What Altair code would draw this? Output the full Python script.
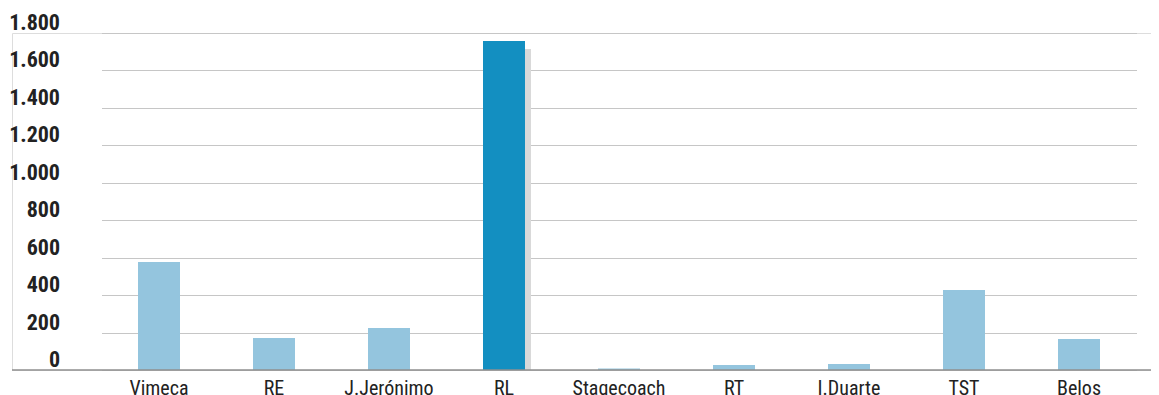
import altair as alt
import pandas as pd

companies = ["Vimeca", "RE", "J.Jerónimo", "RL", "Stagecoach", "RT", "I.Duarte", "TST", "Belos"]
values = [577, 171, 224, 1757, 8, 27, 32, 427, 166]
highlight = [False, False, False, True, False, False, False, False, False]
shadow_company = ["RL"]
shadow_value = [1715]
y_ticks = [0, 200, 400, 600, 800, 1000, 1200, 1400, 1600, 1800]
baseline_value = [0]

df = pd.DataFrame({"company": companies, "value": values, "hl": highlight})
sdf = pd.DataFrame({"company": shadow_company, "value": shadow_value})
tdf = pd.DataFrame({"tick": y_ticks})
bdf = pd.DataFrame({"v": baseline_value})

FONT = "Roboto Condensed"
W, H = 1139, 337

x_scale = alt.Scale(domain=companies, range=[89.5, 1124.5])
y_scale = alt.Scale(domain=[0, 1800], nice=False)

x_axis = alt.Axis(title=None, labelAngle=0, ticks=False, labelFont=FONT,
                  labelFontSize=20, labelColor="#222222", labelPadding=24,
                  labelBaseline="alphabetic", domain=False, grid=False)
y_axis = alt.Axis(title=None, values=y_ticks, labels=False, ticks=False,
                  domain=False, grid=True, gridColor="#c6c6c6", gridWidth=1.2)

shadow = alt.Chart(sdf).mark_bar(size=42, xOffset=6, color="#d9d9d9").encode(
    x=alt.X("company:N", scale=x_scale, sort=companies, axis=x_axis),
    y=alt.Y("value:Q", scale=y_scale, axis=y_axis),
)

bars = alt.Chart(df).mark_bar(size=42).encode(
    x=alt.X("company:N", scale=x_scale, sort=companies, axis=x_axis),
    y=alt.Y("value:Q", scale=y_scale, axis=y_axis),
    color=alt.Color("hl:N", scale=alt.Scale(domain=[False, True], range=["#94c5de", "#138fc1"]), legend=None),
)

base_rule = alt.Chart(bdf).mark_rule(color="#8f8f8f", strokeWidth=1.6).encode(
    y=alt.Y("v:Q", scale=y_scale, axis=y_axis),
    x=alt.value(0),
    x2=alt.value(W),
)

labels = alt.Chart(tdf).mark_text(align="right", baseline="alphabetic", dy=-3,
                                   font=FONT, fontSize=22, fontWeight="bold", color="#222222").encode(
    x=alt.value(48),
    y=alt.Y("tick:Q", scale=y_scale, axis=y_axis),
    text=alt.Text("tickLabel:N"),
).transform_calculate(tickLabel="replace(format(datum.tick, ','), ',', '.')")

chart = alt.layer(shadow, bars, base_rule, labels).properties(
    width=W, height=H,
    autosize=alt.AutoSizeParams(type="none"),
    padding={"left": 4, "top": 25, "right": 0, "bottom": 26},
).configure_view(stroke=None).configure(background="white")

chart.save("out.html", embed_options={"renderer": "svg", "actions": False})
